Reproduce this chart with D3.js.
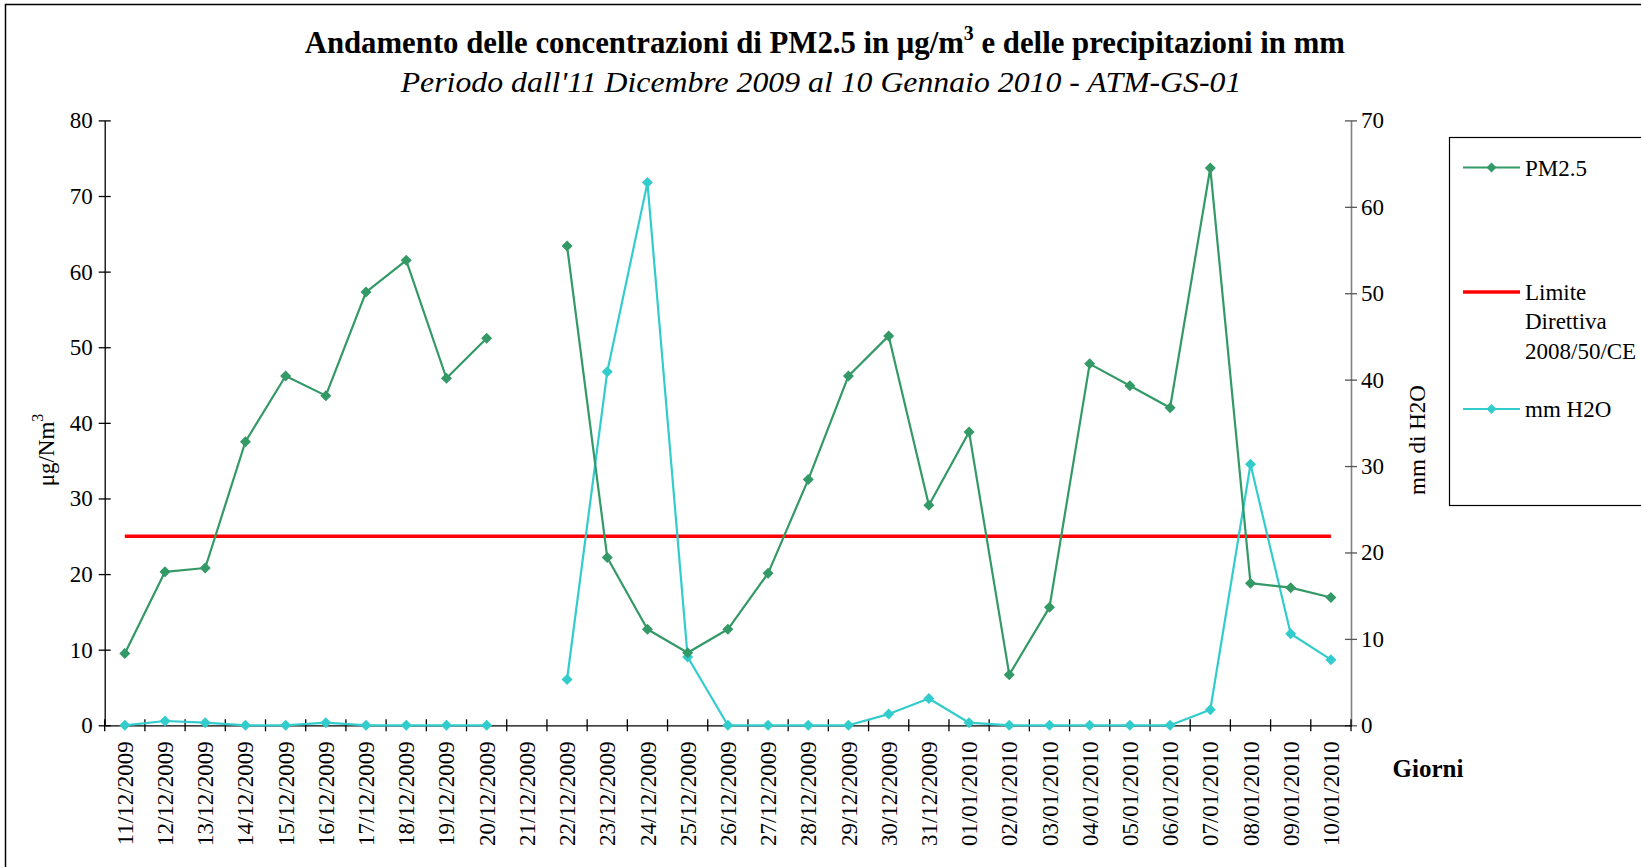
<!DOCTYPE html>
<html>
<head>
<meta charset="utf-8">
<script src="https://cdn.jsdelivr.net/npm/d3@7"></script>
<style>
  html, body { margin: 0; padding: 0; background: #fff; }
  svg { display: block; }
  text { font-family: "Liberation Serif", "Times New Roman", serif; fill: #000; }
</style>
</head>
<body>
<svg id="chart" width="1641" height="867"></svg>
<script>
const categories = [
  "11/12/2009","12/12/2009","13/12/2009","14/12/2009","15/12/2009","16/12/2009","17/12/2009",
  "18/12/2009","19/12/2009","20/12/2009","21/12/2009","22/12/2009","23/12/2009","24/12/2009",
  "25/12/2009","26/12/2009","27/12/2009","28/12/2009","29/12/2009","30/12/2009","31/12/2009",
  "01/01/2010","02/01/2010","03/01/2010","04/01/2010","05/01/2010","06/01/2010","07/01/2010",
  "08/01/2010","09/01/2010","10/01/2010"
];
const pm25 = [9.5, 20.3, 20.8, 37.5, 46.2, 43.6, 57.3, 61.5, 45.9, 51.2, null,
  63.4, 22.2, 12.7, 9.6, 12.7, 20.1, 32.5, 46.2, 51.5, 29.1,
  38.8, 6.7, 15.6, 47.8, 44.9, 42.0, 73.7, 18.8, 18.2, 16.9];
const rainMm = [0, 0.5, 0.3, 0, 0, 0.3, 0, 0, 0, 0, null,
  5.3, 40.9, 62.8, 7.9, 0, 0, 0, 0, 1.3, 3.1,
  0.3, 0, 0, 0, 0, 0, 1.8, 30.2, 10.6, 7.6];
const limitValues = [25,25,25,25,25,25,25,25,25,25,25,25,25,25,25,25,25,25,25,25,25,25,25,25,25,25,25,25,25,25,25];
const leftTicks = [0,10,20,30,40,50,60,70,80];
const rightTicks = [0,10,20,30,40,50,60,70];

const titleText = "Andamento delle concentrazioni di PM2.5 in \u03BCg/m";
const titleText2 = " e delle precipitazioni in mm";
const subtitleText = "Periodo dall'11 Dicembre 2009 al 10 Gennaio 2010 - ATM-GS-01";
const legendLabels = ["PM2.5", ["Limite", "Direttiva", "2008/50/CE"], "mm H2O"];

const colPM = "#339966", colRain = "#33CCCC", colLim = "#FF0000";

const svg = d3.select("#chart");
const L = 104.7, R = 1351, T = 120.4, B = 725.3;

// outer frame
svg.append("rect").attr("x", 5.5).attr("y", 4.5).attr("width", 1700).attr("height", 900)
  .attr("fill", "none").attr("stroke", "#000").attr("stroke-width", 1.5);

const x = d3.scaleBand().domain(categories).range([L, R]).paddingInner(0).paddingOuter(0);
const cx = c => x(c) + x.bandwidth() / 2;
const yL = d3.scaleLinear().domain([0, 80]).range([B, T]);
const yR = d3.scaleLinear().domain([0, 70]).range([B, T]);

// Title
function fitText(sel, cxv, y, width) {
  const w = sel.node().getBBox().width;
  sel.attr("text-anchor", "middle")
     .attr("transform", `translate(${cxv},${y}) scale(${width / w},1)`);
}
const title = svg.append("text").attr("x", 0).attr("y", 0)
  .style("font-size", "31px").style("font-weight", "bold");
title.append("tspan").text(titleText);
title.append("tspan").attr("dy", -13).style("font-size", "20px").text("3");
title.append("tspan").attr("dy", 13).text(titleText2);
fitText(title, 824.8, 52.5, 1041);

const sub = svg.append("text").attr("x", 0).attr("y", 0)
  .style("font-size", "30px").style("font-style", "italic").text(subtitleText);
fitText(sub, 821, 92, 842);

// Left axis
const gL = svg.append("g").attr("transform", `translate(${L},0)`)
  .call(d3.axisLeft(yL).tickValues(leftTicks).tickSize(6).tickSizeOuter(0));
gL.select(".domain").attr("stroke", "#000").attr("stroke-width", 1.3);
gL.selectAll(".tick line").attr("x1", 6).attr("stroke", "#000").attr("stroke-width", 1.3);
gL.selectAll(".tick text").attr("x", -12).style("font-size", "23px")
  .style("font-family", "'Liberation Serif', serif");

// Right axis
const gR = svg.append("g").attr("transform", `translate(${R},0)`)
  .call(d3.axisRight(yR).tickValues(rightTicks).tickSize(6).tickSizeOuter(0));
gR.select(".domain").attr("stroke", "#808080").attr("stroke-width", 1.6);
gR.selectAll(".tick line").attr("x1", -6).attr("stroke", "#555").attr("stroke-width", 1.3);
gR.selectAll(".tick text").attr("x", 10).style("font-size", "23px")
  .style("font-family", "'Liberation Serif', serif");

// X axis
const gX = svg.append("g").attr("transform", `translate(0,${B})`)
  .call(d3.axisBottom(x).tickSize(0).tickSizeOuter(0));
gX.select(".domain").attr("stroke", "#000").attr("stroke-width", 1.3);
gX.selectAll(".tick text")
  .attr("transform", "rotate(-90)")
  .attr("text-anchor", "end")
  .attr("x", -16).attr("y", 0).attr("dy", "0.35em")
  .style("font-size", "23px")
  .style("font-family", "'Liberation Serif', serif");
const bounds = categories.map(c => x(c)).concat([x.range()[1]]);
svg.append("g").selectAll("line").data(bounds).join("line")
  .attr("x1", d => d).attr("x2", d => d)
  .attr("y1", B - 6).attr("y2", B + 6)
  .attr("stroke", "#000").attr("stroke-width", 1.3);

// Axis titles
svg.append("text").attr("transform", "translate(1428,777)")
  .style("font-size", "25px").style("font-weight", "bold").attr("text-anchor", "middle").text("Giorni");

const lt = svg.append("text").attr("transform", "translate(54,450) rotate(-90)")
  .attr("text-anchor", "middle").style("font-size", "23px");
lt.append("tspan").text("\u03BCg/Nm");
lt.append("tspan").attr("dy", -11).style("font-size", "16px").text("3");

svg.append("text").attr("transform", "translate(1425,440) rotate(-90)")
  .attr("text-anchor", "middle").style("font-size", "23px").text("mm di H2O");

// Limit line
const idx = d3.range(categories.length);
svg.append("path").datum(idx)
  .attr("fill", "none").attr("stroke", colLim).attr("stroke-width", 3.5)
  .attr("d", d3.line().x(i => cx(categories[i])).y(i => yL(limitValues[i])));

// Series
function drawSeries(vals, yScale, color) {
  const line = d3.line()
    .defined(i => vals[i] !== null)
    .x(i => cx(categories[i])).y(i => yScale(vals[i]));
  svg.append("path").datum(idx)
    .attr("fill", "none").attr("stroke", color).attr("stroke-width", 2.2)
    .attr("stroke-linejoin", "round").attr("d", line);
  svg.append("g").selectAll("path").data(idx.filter(i => vals[i] !== null)).join("path")
    .attr("transform", i => `translate(${cx(categories[i])},${yScale(vals[i])})`)
    .attr("d", "M0,-5.5L5.5,0L0,5.5L-5.5,0Z")
    .attr("fill", color);
}
drawSeries(rainMm, yR, colRain);
drawSeries(pm25, yL, colPM);

// Legend
svg.append("rect").attr("x", 1449.5).attr("y", 137.5).attr("width", 300).attr("height", 368)
  .attr("fill", "none").attr("stroke", "#000").attr("stroke-width", 1.2);
const lg = svg.append("g");
function legLine(y, color, w, marker) {
  lg.append("line").attr("x1", 1463).attr("x2", 1520).attr("y1", y).attr("y2", y)
    .attr("stroke", color).attr("stroke-width", w);
  if (marker) lg.append("path").attr("transform", `translate(1491.5,${y})`)
    .attr("d", "M0,-5L5,0L0,5L-5,0Z").attr("fill", color);
}
legLine(167.5, colPM, 2.2, true);
lg.append("text").attr("x", 1525).attr("y", 167.5).attr("dy", "0.35em").style("font-size", "23px").text(legendLabels[0]);
legLine(292, colLim, 3.5, false);
legendLabels[1].forEach((t, k) => {
  lg.append("text").attr("x", 1525).attr("y", 292 + k * 29.3).attr("dy", "0.35em").style("font-size", "23px").text(t);
});
legLine(409, colRain, 2.2, true);
lg.append("text").attr("x", 1525).attr("y", 409).attr("dy", "0.35em").style("font-size", "23px").text(legendLabels[2]);
</script>
</body>
</html>
